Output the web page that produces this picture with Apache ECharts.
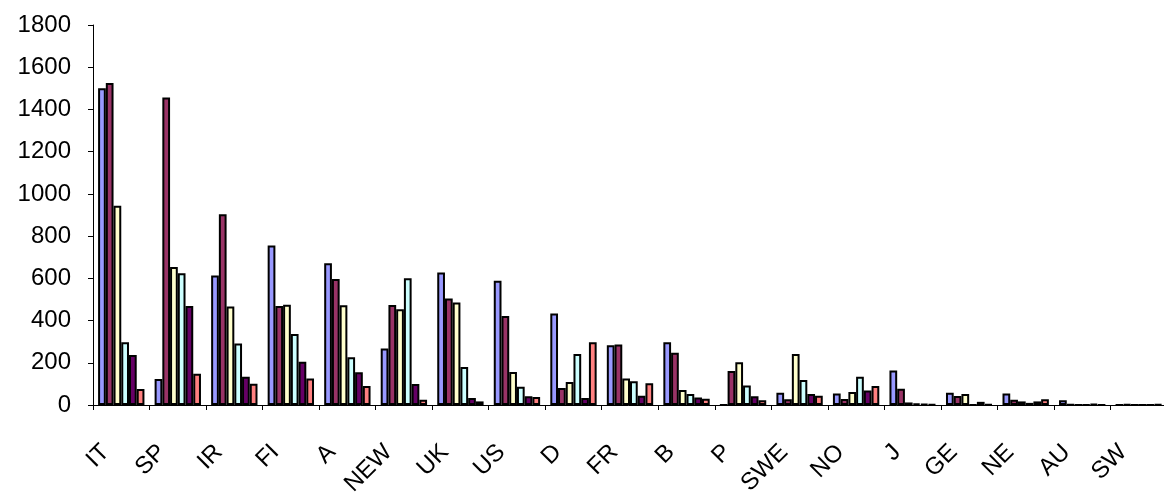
<!DOCTYPE html>
<html>
<head>
<meta charset="utf-8">
<script src="https://cdn.jsdelivr.net/npm/echarts@6/dist/echarts.min.js"></script>
<style>
html,body{margin:0;padding:0;background:#fff;}
#chart{width:1164px;height:493px;}
</style>
</head>
<body>
<div id="chart"></div>
<script>
var categories = ['IT','SP','IR','FI','A','NEW','UK','US','D','FR','B','P','SWE','NO','J','GE','NE','AU','SW'];
var series1 = [1500, 123, 613, 755, 671, 268, 628, 589, 434, 283, 297, 0, 58, 54, 164, 58, 54, 22, 0];
var series2 = [1525, 1457, 903, 469, 597, 474, 505, 421, 80, 287, 248, 161, 27, 28, 77, 43, 25, 2, 3];
var series3 = [944, 654, 466, 475, 472, 453, 486, 156, 109, 126, 71, 202, 242, 62, 12, 52, 17, 1, 0];
var series4 = [297, 624, 291, 336, 226, 600, 180, 87, 242, 112, 52, 92, 118, 134, 6, 1, 10, 1, 0];
var series5 = [237, 469, 134, 205, 155, 99, 33, 41, 33, 44, 35, 41, 52, 69, 4, 15, 17, 4, 0];
var series6 = [76, 148, 101, 126, 90, 25, 17, 38, 297, 103, 30, 22, 44, 90, 3, 3, 27, 0, 3];
var yTicks = {min: 0, max: 1800, interval: 200};

var colors = ['#9999FF', '#993366', '#FFFFCC', '#CCFFFF', '#660066', '#FF8080'];
var allData = [series1, series2, series3, series4, series5, series6];

var chart = echarts.init(document.getElementById('chart'), null, {renderer: 'canvas'});
var seriesList = allData.map(function (d, i) {
  return {
    type: 'bar',
    name: 'Series' + (i + 1),
    data: d,
    barGap: '0%',
    barCategoryGap: '18%',
    itemStyle: {color: colors[i], borderColor: '#000', borderWidth: 2},
    animation: false
  };
});
chart.setOption({
  animation: false,
  backgroundColor: '#fff',
  grid: {left: 93, right: -3, top: 25, bottom: 88, containLabel: false, outerBoundsMode: 'none'},
  xAxis: {
    type: 'category',
    data: categories,
    boundaryGap: true,
    axisLine: {show: true, lineStyle: {color: '#000', width: 1}},
    axisTick: {show: true, alignWithLabel: false, length: 5, lineStyle: {color: '#000'}},
    axisLabel: {
      rotate: 45, interval: 0, margin: 28, color: '#000',
      fontFamily: 'Liberation Sans, Arial, sans-serif', fontSize: 24,
      padding: [0, 22, 0, 0]
    },
    splitLine: {show: false}
  },
  yAxis: {
    type: 'value',
    min: yTicks.min, max: yTicks.max, interval: yTicks.interval,
    axisLine: {show: true, lineStyle: {color: '#000', width: 1}},
    axisTick: {show: true, length: 5, inside: false, lineStyle: {color: '#000'}},
    axisLabel: {
      color: '#000', fontFamily: 'Liberation Sans, Arial, sans-serif', fontSize: 24, margin: 22,
      formatter: function (v) { return String(v); }
    },
    splitLine: {show: false}
  },
  series: seriesList
});
</script>
</body>
</html>
